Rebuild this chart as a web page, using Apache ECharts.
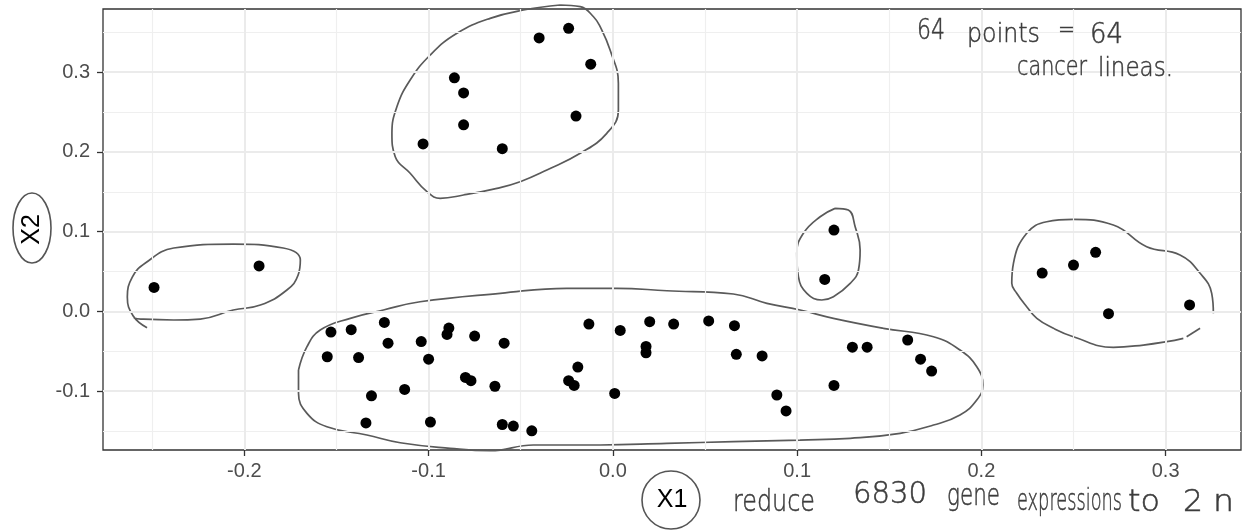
<!DOCTYPE html>
<html><head><meta charset="utf-8">
<script src="https://cdn.jsdelivr.net/npm/echarts@6/dist/echarts.min.js"></script>
<style>html,body{margin:0;padding:0;background:#fff}#c{width:1244px;height:531px}</style>
</head><body><div id="c"></div>
<script>
// ---- data ----
const x1Values = [
  -0.249, -0.192,
  -0.040, -0.024, -0.012, -0.086, -0.081, -0.081, -0.020, -0.103, -0.060,
  0.120, 0.115,
  0.233, 0.250, 0.262, 0.269, 0.313,
  -0.153, -0.142, -0.124, -0.122, -0.155, -0.138, -0.113, -0.131, -0.134, -0.104,
  -0.100, -0.089, -0.090, -0.075, -0.059, -0.080, -0.077, -0.064, -0.099, -0.060,
  -0.054, -0.044, -0.013, 0.004, -0.019, -0.024, -0.021, 0.001, 0.020, 0.018,
  0.018, 0.033, 0.052, 0.066, 0.067, 0.081, 0.089, 0.094, 0.130, 0.138,
  0.160, 0.167, 0.173, 0.120
];
const x2Values = [
  0.030, 0.057,
  0.343, 0.355, 0.310, 0.293, 0.274, 0.234, 0.245, 0.210, 0.204,
  0.102, 0.040,
  0.048, 0.058, 0.074, -0.003, 0.008,
  -0.026, -0.023, -0.014, -0.040, -0.057, -0.058, -0.098, -0.106, -0.140, -0.038,
  -0.060, -0.021, -0.029, -0.031, -0.040, -0.083, -0.087, -0.094, -0.139, -0.142,
  -0.144, -0.150, -0.016, -0.024, -0.070, -0.087, -0.093, -0.103, -0.013, -0.044,
  -0.052, -0.016, -0.012, -0.018, -0.054, -0.056, -0.105, -0.125, -0.045, -0.045,
  -0.036, -0.060, -0.075, -0.093
];
const xTicks = [-0.2, -0.1, 0.0, 0.1, 0.2, 0.3];
const xMinor = [-0.25, -0.15, -0.05, 0.05, 0.15, 0.25];
const yTicks = [-0.1, 0.0, 0.1, 0.2, 0.3];
const yMinor = [-0.15, -0.05, 0.05, 0.15, 0.25, 0.35];
const xRange = [-0.2767, 0.3409];
const yRange = [-0.174, 0.3793];

// hand-drawn cluster outlines (data coordinates)
const loopLeft = [[-0.2528,-0.0206],[-0.2603,-0.0059],[-0.2635,0.0179],[-0.2608,0.0430],[-0.2537,0.0606],[-0.2383,0.0794],[-0.2060,0.0844],[-0.1789,0.0794],[-0.1696,0.0644],[-0.1708,0.0455],[-0.1769,0.0267],[-0.1913,0.0079],[-0.2060,0.0016],[-0.2239,-0.0097],[-0.2383,-0.0109],[-0.2562,-0.0097],[-0.2600,-0.0084]];
const loopTop = [[-0.0286,0.3843],[-0.0177,0.3822],[-0.0105,0.3696],[-0.0069,0.3571],[-0.0015,0.3278],[0.0030,0.2861],[0.0030,0.2526],[-0.0033,0.2233],[-0.0177,0.1982],[-0.0358,0.1773],[-0.0503,0.1626],[-0.0629,0.1543],[-0.0811,0.1459],[-0.0937,0.1418],[-0.1009,0.1501],[-0.1100,0.1732],[-0.1181,0.1940],[-0.1199,0.2233],[-0.1172,0.2567],[-0.1100,0.2902],[-0.0991,0.3216],[-0.0846,0.3488],[-0.0666,0.3676],[-0.0485,0.3780],[-0.0286,0.3843]];
const loopSmall = [[0.1206,0.1292],[0.1278,0.1271],[0.1315,0.1062],[0.1342,0.0769],[0.1333,0.0518],[0.1288,0.0351],[0.1197,0.0183],[0.1134,0.0142],[0.1053,0.0226],[0.1007,0.0434],[0.0998,0.0728],[0.1034,0.0979],[0.1125,0.1187],[0.1206,0.1292]];
const loopRightA = [[0.3259,-0.0025],[0.3250,0.0226],[0.3187,0.0477],[0.3078,0.0706],[0.2897,0.0811],[0.2716,0.1083],[0.2499,0.1154],[0.2355,0.1124],[0.2246,0.0979],[0.2174,0.0602],[0.2165,0.0351],[0.2192,0.0226],[0.2246,0.0058],[0.2301,-0.0088],[0.2391,-0.0213],[0.2499,-0.0319],[0.2716,-0.0452],[0.2879,-0.0423],[0.3006,-0.0381],[0.3096,-0.0339]];
const loopRightB = [[0.3114,-0.0319],[0.3187,-0.0213]];
const loopMain = [[-0.1706,-0.0737],[-0.1660,-0.0444],[-0.1588,-0.0235],[-0.1425,-0.0088],[-0.1245,0.0016],[-0.1046,0.0120],[-0.0611,0.0226],[-0.0250,0.0289],[0.0022,0.0289],[0.0293,0.0258],[0.0654,0.0217],[0.0836,0.0100],[0.1016,0.0016],[0.1197,-0.0088],[0.1468,-0.0213],[0.1740,-0.0319],[0.1884,-0.0486],[0.1975,-0.0695],[0.2008,-0.0925],[0.1975,-0.1113],[0.1884,-0.1301],[0.1740,-0.1427],[0.1559,-0.1531],[0.1288,-0.1593],[0.1016,-0.1615],[0.0654,-0.1636],[0.0293,-0.1656],[-0.0069,-0.1677],[-0.0431,-0.1677],[-0.0666,-0.1749],[-0.0883,-0.1719],[-0.1154,-0.1649],[-0.1335,-0.1552],[-0.1552,-0.1448],[-0.1660,-0.1280],[-0.1706,-0.1029],[-0.1706,-0.0737]];

// handwritten notes: word, left px, right px, baseline px, font size
const noteWords = [
  ['64', 917, 945, 46, 28], ['points', 967, 1040, 48, 27], ['=', 1058, 1075, 43, 24], ['64', 1090, 1123, 50, 28],
  ['cancer', 1017, 1087, 81, 26], ['lineas.', 1098, 1173, 82, 26],
  ['reduce', 733, 815, 518, 30], ['6830', 853, 927, 510, 30], ['gene', 947, 1000, 512, 30],
  ['expressions', 1017, 1122, 517, 30], ['to', 1128, 1160, 518, 30], ['2', 1183, 1203, 518, 30], ['n', 1213, 1234, 518, 30]
];

const HAND_FONT = '"DejaVu Sans"';
const HAND_W = 200;
const mctx = document.createElement('canvas').getContext('2d');
function noteGraphic(w) {
  const [t, x0, x1, base, fs] = w;
  mctx.font = HAND_W + ' ' + fs + 'px ' + HAND_FONT;
  const m = mctx.measureText(t).width || 1;
  return {
    type: 'text', x: x0, y: base, scaleX: (x1 - x0) / m, silent: true, z: 10,
    style: { text: t, fill: '#3C3C3C', stroke: '#3C3C3C', lineWidth: 0.5, fontSize: fs,
             fontFamily: HAND_FONT, fontWeight: HAND_W,
             align: 'left', verticalAlign: 'bottom', lineHeight: fs * 1.0 }
  };
}

const points = x1Values.map((v, i) => [v, x2Values[i]]);
const loopStyle = { color: '#5A5A5A', width: 1.7 };
function loopSeries(d) {
  return { type: 'line', data: d, smooth: 0.45, symbol: 'none', showSymbol: false, clip: false,
           silent: true, z: 3, lineStyle: loopStyle, emphasis: { disabled: true } };
}
const majorLS = { color: '#EBEBEB', width: 2, type: 'solid' };
const minorLS = { color: '#EFEFEF', width: 1.2, type: 'solid' };
const gridLines = []
  .concat(xMinor.map(v => ({ xAxis: v, lineStyle: minorLS })))
  .concat(yMinor.map(v => ({ yAxis: v, lineStyle: minorLS })))
  .concat(xTicks.map(v => ({ xAxis: v, lineStyle: majorLS })))
  .concat(yTicks.map(v => ({ yAxis: v, lineStyle: majorLS })));

const tickFont = { color: '#4D4D4D', fontSize: 20, fontFamily: '"Liberation Sans", Arial, sans-serif' };
const chart = echarts.init(document.getElementById('c'), null, { renderer: 'canvas' });
chart.setOption({
  animation: false,
  backgroundColor: '#fff',
  grid: { left: 103, right: 3, top: 9, bottom: 81, show: true, borderColor: '#333', borderWidth: 1.3, backgroundColor: '#fff' },
  xAxis: {
    type: 'value', min: xRange[0], max: xRange[1],
    axisLine: { show: false, onZero: false },
    axisTick: { show: true, customValues: xTicks, length: 6, lineStyle: { color: '#333', width: 1.3 } },
    axisLabel: Object.assign({ customValues: xTicks, margin: 11, formatter: v => v.toFixed(1) }, tickFont),
    splitLine: { show: false },
    name: 'X1', nameLocation: 'middle', nameGap: 38,
    nameTextStyle: { fontSize: 25, color: '#000', fontFamily: '"Liberation Sans", Arial, sans-serif' }
  },
  yAxis: {
    type: 'value', min: yRange[0], max: yRange[1],
    axisLine: { show: false, onZero: false },
    axisTick: { show: true, customValues: yTicks, length: 6, lineStyle: { color: '#333', width: 1.3 } },
    axisLabel: Object.assign({ customValues: yTicks, margin: 13, formatter: v => v.toFixed(1) }, tickFont),
    splitLine: { show: false },
    name: 'X2', nameLocation: 'middle', nameGap: 58, nameRotate: 90,
    nameTextStyle: { fontSize: 25, color: '#000', fontFamily: '"Liberation Sans", Arial, sans-serif' }
  },
  series: [
    { type: 'line', data: [[xTicks[0], yTicks[0]]], symbol: 'none', showSymbol: false, silent: true, z: 1,
      lineStyle: { opacity: 0 },
      markLine: { silent: true, symbol: ['none', 'none'], label: { show: false }, animation: false,
                  emphasis: { disabled: true }, data: gridLines } },
    loopSeries(loopLeft), loopSeries(loopTop), loopSeries(loopSmall),
    loopSeries(loopRightA), loopSeries(loopRightB), loopSeries(loopMain),
    { type: 'scatter', data: points, symbol: 'circle', symbolSize: 11, z: 5,
      itemStyle: { color: '#000', opacity: 1 }, emphasis: { disabled: true } }
  ],
  graphic: [
    { type: 'ellipse', shape: { cx: 671, cy: 500, rx: 29, ry: 29 }, silent: true,
      style: { fill: 'none', stroke: '#555', lineWidth: 1.6 } },
    { type: 'ellipse', shape: { cx: 32, cy: 228, rx: 19, ry: 35 }, silent: true,
      style: { fill: 'none', stroke: '#555', lineWidth: 1.6 } }
  ].concat(noteWords.map(noteGraphic))
});
</script>
</body></html>
